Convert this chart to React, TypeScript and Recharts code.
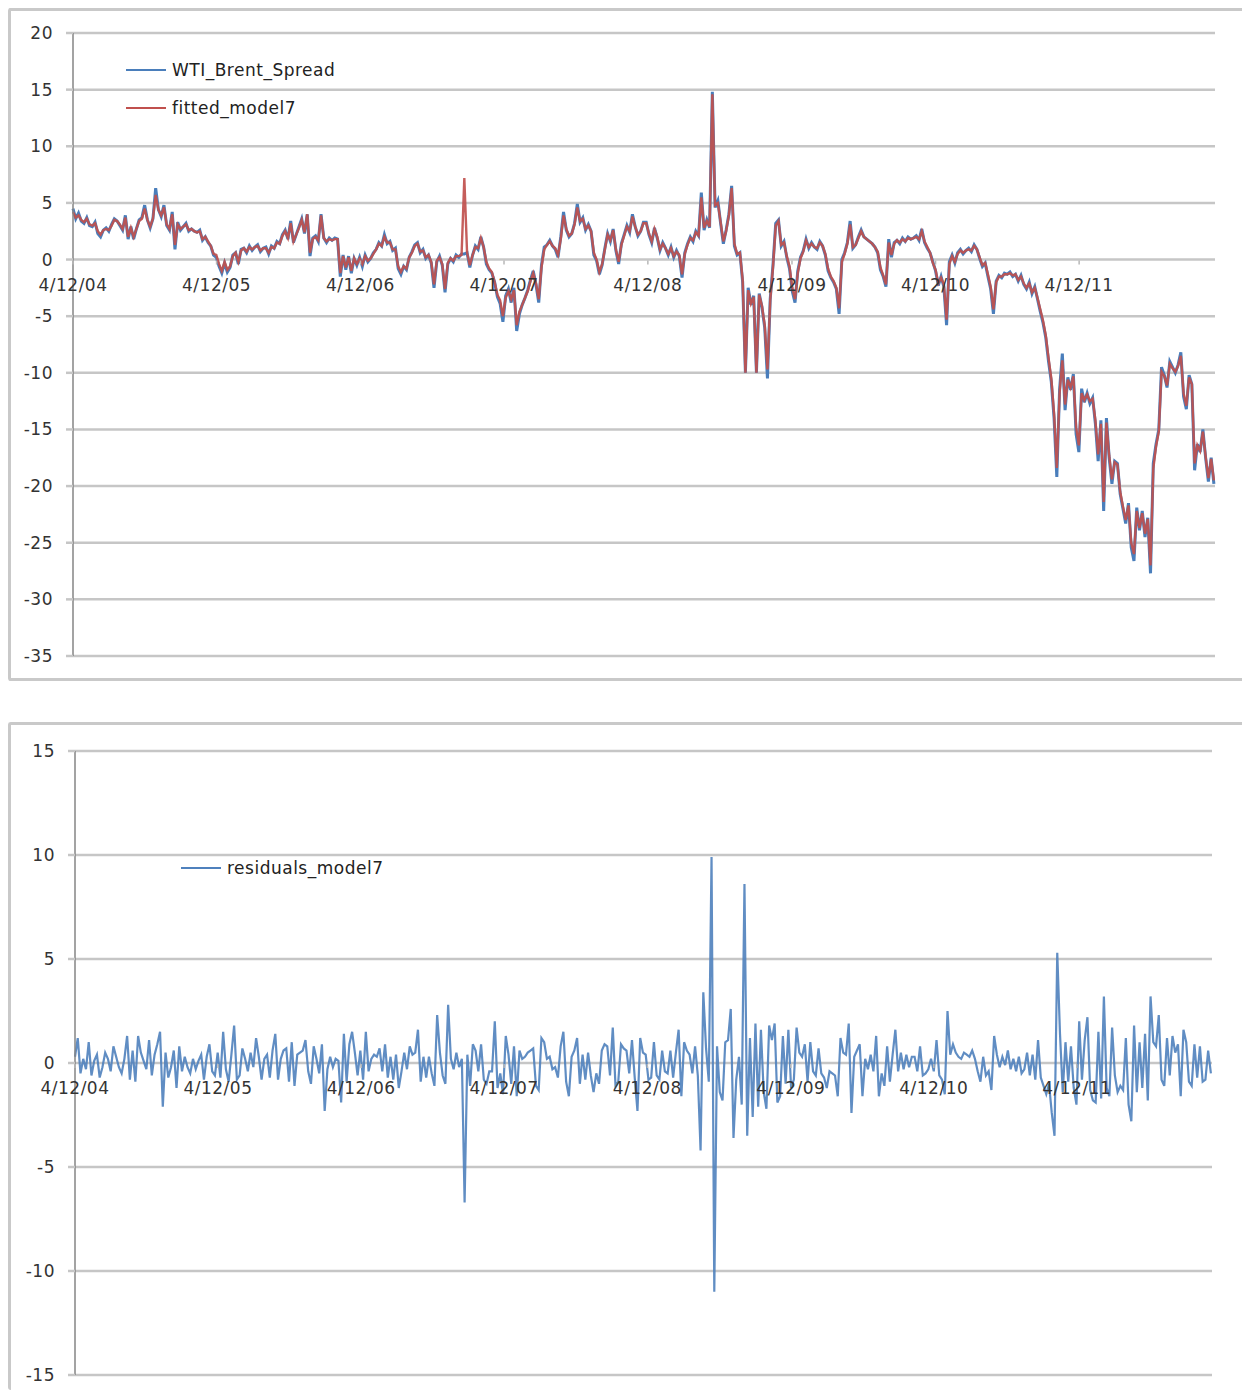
import React from 'react';
import { LineChart, Line, XAxis, YAxis, CartesianGrid, Legend } from 'recharts';

// weekly observations starting 4/12/04
const tickLabels = ['4/12/04', '4/12/05', '4/12/06', '4/12/07', '4/12/08', '4/12/09', '4/12/10', '4/12/11'];
const tickWeeks = [0, 52.1, 104.3, 156.4, 208.6, 260.9, 313.0, 365.1];
const spreadTicks = [-35, -30, -25, -20, -15, -10, -5, 0, 5, 10, 15, 20];
const residTicks = [-15, -10, -5, 0, 5, 10, 15];

const spread = [
  4.5, 3.6, 4.1, 3.4, 3.2, 3.7, 3.0, 2.9, 3.3, 2.3, 2.0, 2.6, 2.8, 2.5, 3.1, 3.6, 3.4, 3.0, 2.6, 3.9, 1.8, 2.9, 1.8, 2.7, 3.5, 3.7, 4.8, 3.5, 2.8, 3.6, 6.3, 4.4, 3.8, 4.8, 3.0, 2.6, 4.2, 0.9, 3.3, 2.6, 2.9, 3.2, 2.5, 2.7, 2.5, 2.4, 2.6, 1.7, 2.0, 1.5, 1.2, 0.4,
  0.2, -0.6, -1.2, -0.3, -1.1, -0.7, 0.4, 0.6, -0.4, 0.9, 1.0, 0.6, 1.2, 0.8, 1.1, 1.3, 0.7, 1.0, 1.1, 0.5, 1.2, 1.0, 1.6, 1.4, 2.2, 2.6, 1.8, 3.4, 1.5, 2.2, 2.9, 3.6, 2.3, 4.0, 0.3, 1.9, 2.1, 1.6, 4.0, 1.9, 1.5, 1.9, 1.7, 1.9, 1.8, -1.5, 0.4, -0.9, 0.3, -1.2, 0.1, -0.5,
  0.2, -0.6, 0.4, -0.2, 0.1, 0.6, 0.9, 1.5, 1.2, 2.2, 1.4, 1.6, 0.8, 1.0, -0.8, -1.3, -0.6, -0.9, 0.2, 0.7, 1.3, 1.5, 0.6, 0.9, 0.1, 0.4, -0.3, -2.5, -0.2, 0.3, -0.5, -2.9, -0.4, 0.1, -0.2, 0.4, 0.2, 0.5, 0.5, 0.6, -0.7, 0.4, 1.2, 0.9, 2.0, 1.1, -0.4, -0.9, -1.2, -2.0, -3.3, -3.9,
  -5.5, -3.2, -2.6, -3.8, -2.5, -6.3, -4.8, -4.0, -3.4, -2.7, -1.8, -1.0, -2.2, -3.8, -0.5, 1.1, 1.3, 1.7, 1.2, 0.9, 0.2, 2.0, 4.2, 2.6, 2.0, 2.3, 3.2, 4.9, 3.3, 3.7, 2.6, 3.1, 2.5, 0.4, -0.1, -1.3, -0.5, 1.0, 2.3, 1.6, 2.7, 0.8, -0.4, 1.4, 2.2, 3.0, 2.4, 4.0, 2.9, 2.1, 2.5, 3.3,
  3.3, 2.2, 1.5, 2.8, 1.9, 0.8, 1.5, 1.0, 0.4, 1.1, 0.2, 0.8, 0.3, -1.6, 0.6, 1.4, 2.0, 1.6, 2.5, 2.1, 5.9, 2.6, 3.5, 2.8, 14.8, 4.6, 5.2, 3.2, 1.4, 2.6, 4.0, 6.5, 1.2, 0.4, 0.6, -2.0, -10.0, -2.5, -4.0, -3.2, -10.0, -3.0, -4.2, -6.0, -10.5, -3.5, -0.5, 3.2, 3.5, 1.2, 1.6, 0.2,
  -0.8, -2.8, -3.8, -1.0, 0.2, 0.8, 1.8, 1.0, 1.5, 1.1, 0.9, 1.6, 1.2, 0.4, -1.0, -1.6, -2.0, -2.6, -4.8, 0.0, 0.6, 1.5, 3.4, 1.0, 1.3, 2.0, 2.6, 2.0, 1.8, 1.6, 1.4, 1.1, 0.6, -0.9, -1.5, -2.4, 1.8, 0.2, 1.5, 1.7, 1.4, 1.9, 1.6, 2.0, 1.8, 1.9, 2.1, 1.7, 2.7, 1.5, 1.0, 0.6,
  -0.2, -1.0, -2.3, -1.5, -2.4, -5.8, -0.2, 0.4, -0.3, 0.6, 0.9, 0.5, 0.8, 1.0, 0.7, 1.3, 0.9, 0.1, -0.6, -0.3, -1.5, -2.6, -4.8, -1.9, -1.4, -1.6, -1.2, -1.3, -1.1, -1.5, -1.3, -1.9, -1.4, -2.2, -2.6, -2.0, -3.0, -2.4, -3.5, -4.6, -5.6, -6.9, -9.0, -10.8, -14.0, -19.2, -11.5, -8.3, -13.3, -10.4, -11.5, -10.1,
  -15.4, -17.0, -11.4, -12.6, -11.8, -12.7, -12.2, -14.5, -17.8, -14.2, -22.2, -14.0, -17.5, -19.8, -17.8, -18.0, -20.7, -22.0, -23.3, -21.5, -25.4, -26.6, -21.9, -23.9, -22.2, -24.5, -22.8, -27.7, -18.0, -16.3, -15.0, -9.5, -10.2, -11.3, -9.0, -9.5, -10.0, -9.3, -8.2, -12.1, -13.2, -10.2, -11.0, -18.6, -16.3, -17.0, -15.0, -17.5, -19.6, -17.5, -19.8,
];

const fitted = [
  4.2, 3.7, 3.9, 3.5, 3.3, 3.6, 3.1, 3.0, 3.2, 2.5, 2.2, 2.6, 2.7, 2.6, 3.0, 3.5, 3.4, 3.1, 2.7, 3.7, 2.0, 2.8, 2.0, 2.7, 3.4, 3.6, 4.5, 3.5, 2.9, 3.6, 5.7, 4.4, 3.9, 4.6, 3.1, 2.7, 4.0, 1.3, 3.1, 2.7, 2.9, 3.1, 2.6, 2.7, 2.5, 2.4, 2.5, 1.8, 2.0, 1.6, 1.2, 0.5,
  0.4, -0.4, -1.0, -0.2, -0.9, -0.6, 0.3, 0.6, -0.2, 0.8, 1.0, 0.7, 1.1, 0.9, 1.1, 1.2, 0.8, 1.0, 1.0, 0.6, 1.1, 1.0, 1.5, 1.4, 2.1, 2.5, 1.9, 3.2, 1.6, 2.2, 2.8, 3.5, 2.4, 4.0, 0.6, 1.8, 2.0, 1.7, 3.9, 1.9, 1.6, 1.8, 1.7, 1.8, 1.8, -1.2, 0.3, -0.7, 0.2, -1.0, 0.1, -0.4,
  0.1, -0.4, 0.3, -0.1, 0.1, 0.5, 0.9, 1.4, 1.2, 2.0, 1.5, 1.5, 0.9, 0.9, -0.6, -1.1, -0.6, -0.8, 0.2, 0.6, 1.2, 1.4, 0.7, 0.8, 0.2, 0.4, -0.2, -2.2, -0.1, 0.2, -0.4, -2.6, -0.3, 0.1, -0.1, 0.3, 0.3, 0.4, 7.2, 0.6, -0.5, 0.4, 1.1, 1.0, 1.9, 1.1, -0.2, -0.8, -1.1, -2.0, -3.1, -3.6,
  -5.0, -3.4, -2.8, -3.5, -2.7, -5.8, -4.6, -4.0, -3.4, -2.8, -1.9, -1.2, -2.1, -3.5, -0.7, 0.9, 1.3, 1.6, 1.2, 1.0, 0.4, 1.8, 3.9, 2.7, 2.1, 2.3, 3.1, 4.6, 3.4, 3.6, 2.7, 3.0, 2.5, 0.6, 0.0, -1.1, -0.4, 0.9, 2.2, 1.7, 2.6, 0.9, -0.2, 1.3, 2.1, 2.9, 2.5, 3.8, 2.9, 2.2, 2.5, 3.2,
  3.2, 2.3, 1.6, 2.7, 2.0, 0.9, 1.4, 1.0, 0.5, 1.0, 0.3, 0.7, 0.4, -1.3, 0.5, 1.3, 1.9, 1.7, 2.4, 2.1, 5.5, 2.8, 3.4, 2.9, 14.6, 4.8, 5.0, 3.3, 1.6, 2.5, 3.9, 6.3, 1.4, 0.5, 0.6, -1.8, -10.0, -2.7, -3.9, -3.3, -10.0, -3.1, -4.1, -5.8, -9.7, -3.6, -0.7, 3.0, 3.4, 1.3, 1.5, 0.3,
  -0.6, -2.5, -3.5, -1.2, 0.1, 0.7, 1.7, 1.1, 1.4, 1.1, 1.0, 1.5, 1.2, 0.5, -0.8, -1.5, -1.9, -2.5, -4.3, -0.2, 0.5, 1.4, 3.1, 1.1, 1.3, 1.9, 2.5, 2.0, 1.8, 1.6, 1.4, 1.1, 0.7, -0.7, -1.4, -2.2, 1.5, 0.4, 1.4, 1.7, 1.5, 1.8, 1.6, 1.9, 1.8, 1.9, 2.0, 1.8, 2.5, 1.6, 1.1, 0.6,
  -0.3, -0.9, -2.1, -1.6, -2.2, -5.3, -0.4, 0.3, -0.2, 0.5, 0.8, 0.6, 0.8, 0.9, 0.8, 1.2, 0.9, 0.2, -0.5, -0.3, -1.3, -2.4, -4.4, -2.0, -1.5, -1.5, -1.3, -1.3, -1.2, -1.4, -1.3, -1.8, -1.5, -2.1, -2.5, -2.1, -2.9, -2.5, -3.4, -4.4, -5.4, -6.7, -8.7, -10.5, -13.6, -18.4, -11.8, -8.9, -12.8, -10.6, -11.3, -10.3,
  -14.8, -16.4, -11.8, -12.4, -11.9, -12.5, -12.3, -14.2, -17.2, -14.5, -21.4, -14.4, -17.3, -19.4, -17.9, -18.1, -20.5, -21.8, -23.0, -21.7, -25.0, -26.0, -22.2, -23.7, -22.4, -24.2, -22.9, -27.0, -18.5, -16.5, -15.2, -9.9, -10.3, -11.1, -9.2, -9.6, -9.9, -9.4, -8.5, -11.8, -12.9, -10.4, -11.0, -18.0, -16.4, -16.9, -15.2, -17.4, -19.3, -17.6, -19.5,
];

const residuals = [
  0.3, 1.2, -0.5, 0.2, -0.3, 1.0, -0.6, 0.1, 0.4, -0.7, -0.2, 0.5, 0.2, -0.4, 0.8, 0.3, -0.2, -0.5, 0.2, 1.3, -0.8, 0.6, -0.9, 1.3, 0.5, 0.1, -0.3, 1.1, -0.6, 0.4, 0.9, 1.5, -2.1, 0.5, -0.7, -0.2, 0.6, -1.2, 0.8, -0.4, 0.3, -0.2, -0.5, 0.2, -0.3, 0.1, 0.4, -0.8, 0.3, 0.9, -0.4, -0.6,
  0.5, -0.7, 1.5, -0.3, -0.9, 0.4, 1.8, -0.8, -0.6, 0.7, 0.2, -0.4, 0.5, -0.2, 1.2, 0.3, -0.8, 0.2, 0.4, -0.7, 0.6, 1.4, -0.8, 0.2, 0.6, 0.7, -0.9, 1.0, -1.1, 0.4, 0.5, 0.6, 1.1, -0.4, -1.0, 0.8, 0.2, -0.5, 0.9, -2.3, -0.3, 0.3, -0.2, 0.2, 0.1, -1.9, 1.4, -0.9, 0.9, 1.5, 0.5, -0.6,
  0.6, -0.8, 1.5, -0.4, 0.2, 0.4, 0.3, 0.7, -0.4, 0.9, -0.7, 0.3, -0.8, 0.4, -1.2, -0.4, 0.5, -0.3, 0.8, 0.4, 0.5, 1.6, -0.9, 0.3, -0.7, 0.3, -0.5, -1.1, 2.3, 0.5, -0.6, -1.0, 2.8, 0.2, -0.3, 0.5, -0.2, 0.2, -6.7, 0.4, -1.1, 0.9, 0.6, -0.4, 0.9, -0.8, -1.0, -0.4, -0.4, 2.0, -1.2, -0.5,
  -1.5, 1.3, 0.4, -1.0, 0.8, -1.6, 0.6, 0.2, 0.3, 0.5, 0.6, 0.7, -1.1, -1.3, 1.2, 1.0, 0.2, 0.3, -0.3, -0.2, -0.7, 0.8, 1.5, -0.9, -1.6, 0.3, 0.6, 1.2, -1.0, 0.4, -0.8, 0.5, -0.6, -1.4, -0.5, -1.0, 0.6, 0.9, 0.8, -0.6, 1.7, -1.1, -0.9, 0.9, 0.7, 0.6, -0.5, 1.1, -0.7, -2.3, 1.2, 0.5,
  0.4, -0.8, -0.7, 1.0, -0.6, -0.8, 0.6, -0.4, -0.5, 0.6, -0.7, 0.5, 1.6, -1.6, 1.0, 0.6, 0.4, -0.5, 0.8, -0.6, -4.2, 3.4, 0.7, -0.9, 9.9, -11.0, 0.8, -1.4, -1.8, 1.0, 1.1, 2.6, -3.6, -0.8, 0.3, -2.0, 8.6, -3.5, 1.2, -2.6, 1.9, -2.1, 1.6, -1.4, -2.2, 1.8, 1.1, 1.9, -1.9, -1.6, 1.3, -1.0,
  1.6, -1.2, -0.8, 1.7, 0.5, 0.3, 0.9, -0.9, 1.0, -0.4, -0.6, 0.7, -0.5, -0.7, -1.2, -0.4, -0.5, -0.6, -1.6, 1.2, 0.5, 0.4, 1.9, -2.4, 0.3, 0.6, 0.9, -1.6, 0.2, -0.3, 0.4, -0.4, 1.3, -1.6, -0.5, -1.1, 0.8, -0.9, 0.4, 1.6, -0.4, 0.5, -0.3, 0.4, -0.2, 0.3, 0.3, -0.4, 0.8, -0.6, -0.5, -0.3,
  0.2, -0.4, 1.1, -0.6, -0.8, -1.5, 2.5, 0.4, 0.9, 0.5, 0.3, 0.2, 0.5, 0.4, 0.3, 0.6, 0.2, -0.4, -0.9, 0.3, -0.6, -0.4, -1.3, 1.3, 0.4, -0.2, 0.3, -0.1, 0.6, -0.3, 0.2, -0.4, 0.3, -0.5, -0.3, 0.5, -0.6, 0.4, -0.8, 1.1, -0.7, -1.1, -1.5, -1.0, -2.4, -3.5, 5.3, 1.4, -1.4, 1.0, -0.9, 0.8,
  -1.2, -2.0, 2.0, -0.8, 1.1, 2.2, -1.3, -1.8, -1.9, 1.5, -1.7, 3.2, -1.2, -1.6, 1.7, -0.6, -1.4, -1.1, -1.3, 1.2, -2.0, -2.8, 1.8, -1.4, 1.0, -1.2, 1.4, -1.8, 3.2, 1.0, 0.8, 2.3, -0.8, -1.1, 1.2, -0.6, 1.3, 0.5, 0.9, -1.6, 1.6, 1.0, -0.9, -1.1, 0.9, -0.7, 0.8, -0.9, -0.8, 0.6, -0.5,
];

const data = spread.map((v, i) => ({ w: i, spread: v, fitted: fitted[i], resid: residuals[i] }));

const FONT = '"DejaVu Sans", Verdana, sans-serif';
const GRID = '#c6c6c6';
const BLUE = '#4a7ebb';
const RED = '#c0504d';
const W_END = 414.4;

function DateTick(props: any) {
  const { x, payload, zeroY } = props;
  const idx = tickWeeks.indexOf(payload.value);
  return (
    <g>
      <line x1={x} x2={x} y1={zeroY + 1} y2={zeroY + 5} stroke="#b8b8b8" strokeWidth={1.5} />
      <text x={x} y={zeroY + 31} textAnchor="middle" fontSize={17} fill="#333" fontFamily={FONT} letterSpacing={0.5}>
        {tickLabels[idx]}
      </text>
    </g>
  );
}

function LegendLines(props: any) {
  const items = props.payload || [];
  return (
    <svg width={260} height={items.length * 38} style={{ overflow: 'visible' }}>
      {items.map((it: any, i: number) => (
        <g key={it.value}>
          <line x1={0} x2={40} y1={11 + i * 38} y2={11 + i * 38} stroke={it.color} strokeWidth={2} />
          <text x={46} y={17 + i * 38} fontSize={17} fill="#222" fontFamily={FONT} letterSpacing={0.5}>
            {it.value}
          </text>
        </g>
      ))}
    </svg>
  );
}

const panel: React.CSSProperties = {
  position: 'absolute',
  left: 0,
  width: 1242,
  boxSizing: 'border-box',
  border: '3px solid #c9c9c9',
  borderRight: 'none',
  borderRadius: 3,
  overflow: 'hidden',
  background: '#fff',
};

export default function App() {
  const yTick = { fontSize: 17, fill: '#333', fontFamily: FONT, letterSpacing: 0.5 };
  return (
    <div style={{ position: 'relative', width: 1242, height: 1382, overflow: 'hidden' }}>
      <div style={{ ...panel, top: 0, height: 673 }}>
        <LineChart width={1230} height={665} data={data} margin={{ top: 22, right: 26, bottom: 19, left: 0 }}>
          <CartesianGrid vertical={false} stroke={GRID} strokeWidth={2.5} />
          <XAxis
            type="number"
            dataKey="w"
            domain={[0, W_END]}
            ticks={tickWeeks}
            interval={0}
            height={1}
            axisLine={false}
            tickLine={false}
            tick={<DateTick zeroY={22 + (623 * 20) / 55} />}
          />
          <YAxis
            domain={[-35, 20]}
            ticks={spreadTicks}
            interval={0}
            width={62}
            axisLine={{ stroke: '#858585', strokeWidth: 1.5 }}
            tickLine={{ stroke: GRID, strokeWidth: 2.5 }}
            tickSize={7}
            tickMargin={13}
            tick={yTick}
          />
          <Legend
            layout="horizontal"
            verticalAlign="middle"
            align="center"
            wrapperStyle={{ left: 115, top: 48, width: 260, height: 80 }}
            content={<LegendLines />}
          />
          <Line name="WTI_Brent_Spread" dataKey="spread" stroke={BLUE} strokeWidth={3} dot={false} isAnimationActive={false} />
          <Line name="fitted_model7" dataKey="fitted" stroke={RED} strokeWidth={2.4} strokeOpacity={0.92} dot={false} isAnimationActive={false} />
        </LineChart>
      </div>
      <div style={{ ...panel, top: 714, height: 668, borderBottom: 'none', borderRight: '1px solid #e8e8e8' }}>
        <LineChart width={1230} height={665} data={data} margin={{ top: 26, right: 29, bottom: 14, left: 0 }}>
          <CartesianGrid vertical={false} stroke={GRID} strokeWidth={2.5} />
          <XAxis
            type="number"
            dataKey="w"
            domain={[0, W_END]}
            ticks={tickWeeks}
            interval={0}
            height={1}
            axisLine={false}
            tickLine={false}
            tick={<DateTick zeroY={26 + 624 / 2} />}
          />
          <YAxis
            domain={[-15, 15]}
            ticks={residTicks}
            interval={0}
            width={64}
            axisLine={{ stroke: '#858585', strokeWidth: 1.5 }}
            tickLine={{ stroke: GRID, strokeWidth: 2.5 }}
            tickSize={7}
            tickMargin={13}
            tick={yTick}
          />
          <Legend
            layout="horizontal"
            verticalAlign="middle"
            align="center"
            wrapperStyle={{ left: 170, top: 132, width: 260, height: 40 }}
            content={<LegendLines />}
          />
          <Line name="residuals_model7" dataKey="resid" stroke="#4f81bd" strokeWidth={2.2} strokeOpacity={0.9} dot={false} isAnimationActive={false} />
        </LineChart>
      </div>
    </div>
  );
}
